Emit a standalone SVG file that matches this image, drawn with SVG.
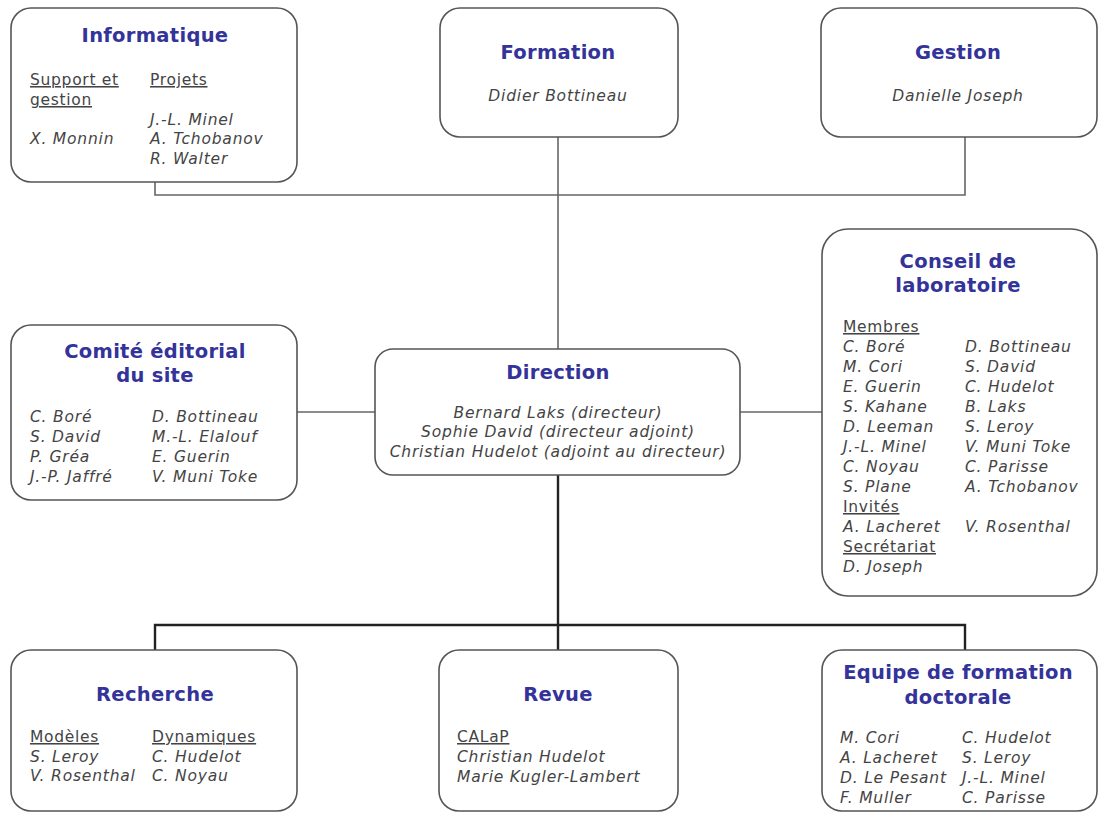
<svg xmlns="http://www.w3.org/2000/svg" width="1099" height="813" viewBox="0 0 1099 813">
<style>
.box{fill:#fff;stroke:#555;stroke-width:1.6}
.t{font-family:"DejaVu Sans",Verdana,sans-serif;font-weight:bold;font-size:19.5px;letter-spacing:0.3px;fill:#333399;text-anchor:middle}
.n{font-family:"DejaVu Sans",Verdana,sans-serif;font-style:italic;font-size:15.5px;letter-spacing:0.8px;fill:#444}
.h{font-family:"DejaVu Sans",Verdana,sans-serif;font-size:15.5px;letter-spacing:0.7px;fill:#444;text-decoration:underline}
.c{text-anchor:middle}
.thin{fill:none;stroke:#666;stroke-width:1.6}
.thick{fill:none;stroke:#222;stroke-width:2.4}
</style>
<rect width="1099" height="813" fill="#fff"/>
<g id="connectors">
<polyline class="thin" points="155,182 155,195 965,195 965,137"/>
<line class="thin" x1="558" y1="137" x2="558" y2="349"/>
<line class="thin" x1="297" y1="412" x2="375" y2="412"/>
<line class="thin" x1="740" y1="412" x2="822" y2="412"/>
<line class="thick" x1="558" y1="475" x2="558" y2="650"/>
<polyline class="thick" points="155,650 155,625 965,625 965,650"/>
</g>
<g id="informatique">
<rect class="box" x="11" y="8" width="286" height="174" rx="20"/>
<text class="t" x="155" y="42">Informatique</text>
<text class="h" x="30" y="85">Support et</text>
<text class="h" x="30" y="105">gestion</text>
<text class="h" x="150" y="85">Projets</text>
<text class="n" x="150" y="125">J.-L. Minel</text>
<text class="n" x="30" y="144">X. Monnin</text>
<text class="n" x="150" y="144">A. Tchobanov</text>
<text class="n" x="150" y="164">R. Walter</text>
</g>
<g id="formation">
<rect class="box" x="440" y="8" width="238" height="129" rx="20"/>
<text class="t" x="558" y="59">Formation</text>
<text class="n c" x="558" y="101">Didier Bottineau</text>
</g>
<g id="gestion">
<rect class="box" x="821" y="8" width="276" height="129" rx="20"/>
<text class="t" x="958" y="59">Gestion</text>
<text class="n c" x="958" y="101">Danielle Joseph</text>
</g>
<g id="comite">
<rect class="box" x="11" y="325" width="286" height="175" rx="20"/>
<text class="t" x="155" y="358">Comité éditorial</text>
<text class="t" x="155" y="382">du site</text>
<text class="n" x="30" y="422">C. Boré</text>
<text class="n" x="30" y="442">S. David</text>
<text class="n" x="30" y="462">P. Gréa</text>
<text class="n" x="30" y="482">J.-P. Jaffré</text>
<text class="n" x="152" y="422">D. Bottineau</text>
<text class="n" x="152" y="442">M.-L. Elalouf</text>
<text class="n" x="152" y="462">E. Guerin</text>
<text class="n" x="152" y="482">V. Muni Toke</text>
</g>
<g id="direction">
<rect class="box" x="375" y="349" width="365" height="126" rx="18"/>
<text class="t" x="558" y="379">Direction</text>
<text class="n c" x="558" y="418">Bernard Laks (directeur)</text>
<text class="n c" x="558" y="437">Sophie David (directeur adjoint)</text>
<text class="n c" x="558" y="457">Christian Hudelot (adjoint au directeur)</text>
</g>
<g id="conseil">
<rect class="box" x="822" y="229" width="275" height="367" rx="26"/>
<text class="t" x="958" y="268">Conseil de</text>
<text class="t" x="958" y="292">laboratoire</text>
<text class="h" x="843" y="332">Membres</text>
<text class="n" x="843" y="352">C. Boré</text>
<text class="n" x="843" y="372">M. Cori</text>
<text class="n" x="843" y="392">E. Guerin</text>
<text class="n" x="843" y="412">S. Kahane</text>
<text class="n" x="843" y="432">D. Leeman</text>
<text class="n" x="843" y="452">J.-L. Minel</text>
<text class="n" x="843" y="472">C. Noyau</text>
<text class="n" x="843" y="492">S. Plane</text>
<text class="h" x="843" y="512">Invités</text>
<text class="n" x="843" y="532">A. Lacheret</text>
<text class="h" x="843" y="552">Secrétariat</text>
<text class="n" x="843" y="572">D. Joseph</text>
<text class="n" x="965" y="352">D. Bottineau</text>
<text class="n" x="965" y="372">S. David</text>
<text class="n" x="965" y="392">C. Hudelot</text>
<text class="n" x="965" y="412">B. Laks</text>
<text class="n" x="965" y="432">S. Leroy</text>
<text class="n" x="965" y="452">V. Muni Toke</text>
<text class="n" x="965" y="472">C. Parisse</text>
<text class="n" x="965" y="492">A. Tchobanov</text>
<text class="n" x="965" y="532">V. Rosenthal</text>
</g>
<g id="recherche">
<rect class="box" x="11" y="650" width="286" height="161" rx="20"/>
<text class="t" x="155" y="701">Recherche</text>
<text class="h" x="30" y="742">Modèles</text>
<text class="n" x="30" y="762">S. Leroy</text>
<text class="n" x="30" y="781">V. Rosenthal</text>
<text class="h" x="152" y="742">Dynamiques</text>
<text class="n" x="152" y="762">C. Hudelot</text>
<text class="n" x="152" y="781">C. Noyau</text>
</g>
<g id="revue">
<rect class="box" x="439" y="650" width="239" height="161" rx="20"/>
<text class="t" x="558" y="701">Revue</text>
<text class="h" x="457" y="742">CALaP</text>
<text class="n" x="457" y="762">Christian Hudelot</text>
<text class="n" x="457" y="782">Marie Kugler-Lambert</text>
</g>
<g id="equipe">
<rect class="box" x="822" y="650" width="275" height="161" rx="20"/>
<text class="t" x="958" y="679">Equipe de formation</text>
<text class="t" x="958" y="704">doctorale</text>
<text class="n" x="840" y="743">M. Cori</text>
<text class="n" x="840" y="763">A. Lacheret</text>
<text class="n" x="840" y="783">D. Le Pesant</text>
<text class="n" x="840" y="803">F. Muller</text>
<text class="n" x="962" y="743">C. Hudelot</text>
<text class="n" x="962" y="763">S. Leroy</text>
<text class="n" x="962" y="783">J.-L. Minel</text>
<text class="n" x="962" y="803">C. Parisse</text>
</g>
</svg>
